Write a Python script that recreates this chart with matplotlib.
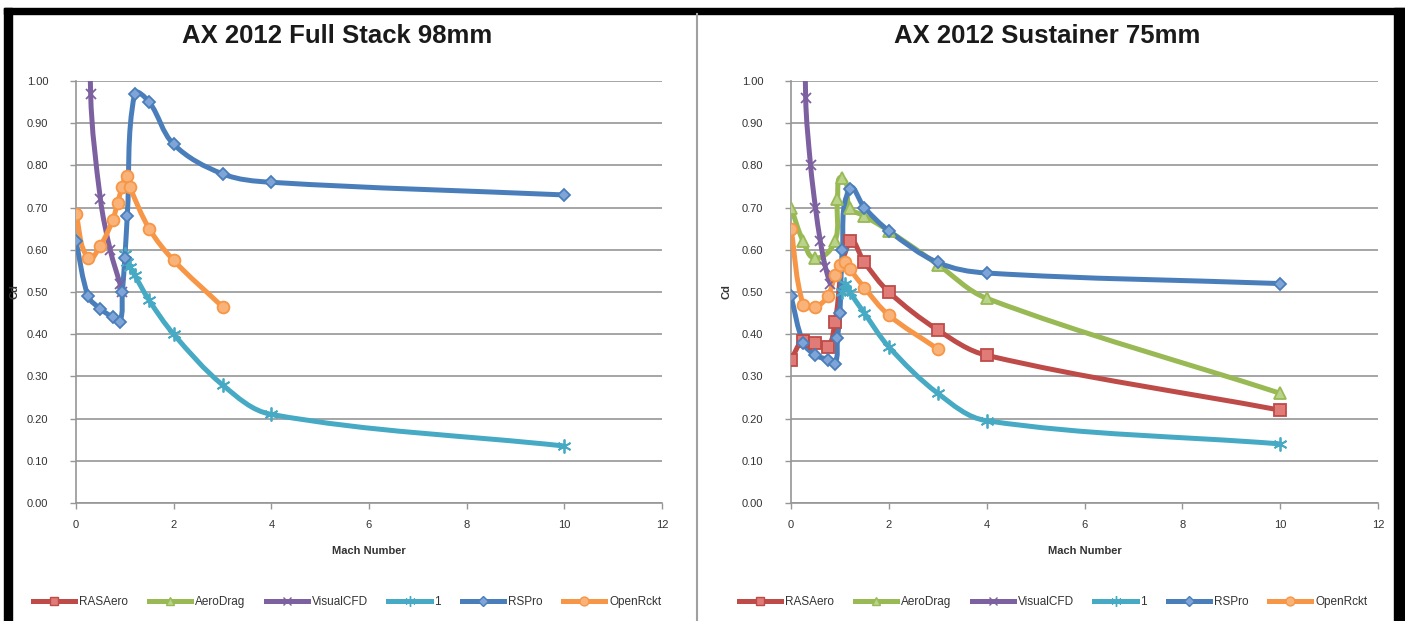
"""AX 2012 drag coefficient comparison: full stack vs sustainer."""
import matplotlib
matplotlib.use("Agg")
import matplotlib.pyplot as plt
from matplotlib.path import Path
from matplotlib.patches import PathPatch, Rectangle
from matplotlib.lines import Line2D
import numpy as np

plt.rcParams.update({"font.family": ["Liberation Sans", "DejaVu Sans"], "font.size": 8})

# ---- data: Full Stack 98mm ----
fs_rspro_x = [0, 0.25, 0.5, 0.75, 0.9, 0.95, 1.0, 1.05, 1.2, 1.5, 2, 3, 4, 10]
fs_rspro_y = [0.62, 0.49, 0.46, 0.44, 0.43, 0.50, 0.58, 0.68, 0.97, 0.95, 0.85, 0.78, 0.76, 0.73]
fs_one_x = [1.0, 1.05, 1.1, 1.2, 1.5, 2, 3, 4, 10]
fs_one_y = [0.59, 0.57, 0.56, 0.54, 0.48, 0.40, 0.28, 0.21, 0.135]
fs_vcfd_x = [0.1, 0.3, 0.5, 0.7, 0.9, 0.95]
fs_vcfd_y = [2.5, 0.97, 0.72, 0.60, 0.52, 0.50]
fs_ork_x = [0, 0.25, 0.5, 0.75, 0.85, 0.95, 1.05, 1.1, 1.5, 2, 3]
fs_ork_y = [0.685, 0.58, 0.61, 0.67, 0.71, 0.75, 0.775, 0.75, 0.65, 0.575, 0.465]

# ---- data: Sustainer 75mm ----
su_ras_x = [0, 0.25, 0.5, 0.75, 0.9, 1.2, 1.5, 2, 3, 4, 10]
su_ras_y = [0.34, 0.385, 0.38, 0.37, 0.43, 0.62, 0.57, 0.50, 0.41, 0.35, 0.22]
su_ad_x = [0, 0.25, 0.5, 0.9, 0.95, 1.05, 1.2, 1.5, 2, 3, 4, 10]
su_ad_y = [0.70, 0.62, 0.58, 0.62, 0.72, 0.77, 0.70, 0.68, 0.645, 0.565, 0.485, 0.26]
su_vcfd_x = [0.1, 0.3, 0.4, 0.5, 0.6, 0.7, 0.8]
su_vcfd_y = [2.5, 0.96, 0.80, 0.70, 0.62, 0.56, 0.52]
su_one_x = [1.05, 1.1, 1.2, 1.5, 2, 3, 4, 10]
su_one_y = [0.50, 0.52, 0.50, 0.45, 0.37, 0.26, 0.195, 0.14]
su_rspro_x = [0, 0.25, 0.5, 0.75, 0.9, 0.95, 1.0, 1.05, 1.2, 1.5, 2, 3, 4, 10]
su_rspro_y = [0.49, 0.38, 0.35, 0.34, 0.33, 0.39, 0.45, 0.60, 0.745, 0.70, 0.645, 0.57, 0.545, 0.52]
su_ork_x = [0, 0.25, 0.5, 0.75, 0.9, 1.0, 1.1, 1.2, 1.5, 2, 3]
su_ork_y = [0.65, 0.47, 0.465, 0.49, 0.54, 0.565, 0.57, 0.555, 0.51, 0.445, 0.365]

names = ["RASAero", "AeroDrag", "VisualCFD", "1", "RSPro", "OpenRckt"]
colors = {"RASAero": "#BE4B48", "AeroDrag": "#98B954", "VisualCFD": "#7D60A0",
          "1": "#46AAC5", "RSPro": "#4A7EBB", "OpenRckt": "#F79646"}
faces = {"RASAero": "#E07B78", "AeroDrag": "#B9D48A", "VisualCFD": "#7D60A0",
         "1": "#46AAC5", "RSPro": "#7FA5D8", "OpenRckt": "#F9B278"}
markers = {"RASAero": "s", "AeroDrag": "^", "VisualCFD": "x", "1": (6, 2, 0),
           "RSPro": "D", "OpenRckt": "o"}
msizes = {"RASAero": 8, "AeroDrag": 8, "VisualCFD": 7, "1": 10, "RSPro": 6.5, "OpenRckt": 8.5}

W, H = 1405, 621
SX = 586 / 12.0   # px per Mach unit
SY = 422 / 1.0    # px per Cd unit


def smooth_path(x, y, k=0.35):
    # Excel-like smoothed line: cubic Bezier with tangents from neighbours,
    # handle lengths tied to each segment so long gaps don't kink
    P = np.column_stack([np.asarray(x) * SX, np.asarray(y) * SY])
    n = len(P)
    tang = []
    for i in range(n):
        a = P[i - 1] if i > 0 else P[i]
        b = P[i + 1] if i < n - 1 else P[i]
        d = b - a
        tang.append(d / (np.hypot(*d) or 1.0))
    verts = [P[0]]
    codes = [Path.MOVETO]
    for i in range(n - 1):
        seg = np.hypot(*(P[i + 1] - P[i]))
        c1 = P[i] + tang[i] * seg * k
        c2 = P[i + 1] - tang[i + 1] * seg * k
        verts += [c1, c2, P[i + 1]]
        codes += [Path.CURVE4] * 3
    v = np.array(verts) / [SX, SY]
    return Path(v, codes)


def draw_series(ax, name, x, y):
    c = colors[name]
    patch = PathPatch(smooth_path(x, y), fill=False, edgecolor=c, lw=3.6,
                      capstyle="round", joinstyle="round", zorder=3)
    ax.add_patch(patch)
    ax.plot(x, y, ls="none", marker=markers[name], ms=msizes[name], mfc=faces[name],
            mec=c, mew=1.3, zorder=4)


def style_axes(ax):
    ax.set_xlim(0, 12)
    ax.set_ylim(0, 1)
    ax.set_xticks(np.arange(0, 13, 2))
    ax.set_yticks(np.arange(0, 1.01, 0.1))
    ax.set_yticklabels([f"{v:.2f}" for v in np.arange(0, 1.01, 0.1)])
    ax.yaxis.grid(True, color="#969696", lw=1.2)
    ax.set_axisbelow(True)
    for s in ["top", "right"]:
        ax.spines[s].set_visible(False)
    for s in ["left", "bottom"]:
        ax.spines[s].set_color("#969696")
        ax.spines[s].set_linewidth(1.2)
    ax.tick_params(axis="both", colors="#969696", labelcolor="#333333", labelsize=8,
                   length=4, width=1.0)
    ax.tick_params(axis="y", pad=16)
    ax.tick_params(axis="x", pad=8)


fig = plt.figure(figsize=(W / 100, H / 100), dpi=100)
fig.patch.set_facecolor("white")

# outer black frame and divider
fig.patches.append(Rectangle((4 / W, 0), 8 / W, 1 - 8 / H, transform=fig.transFigure, color="black"))
fig.patches.append(Rectangle((1394 / W, 0), 11 / W, 1 - 8 / H, transform=fig.transFigure, color="black"))
fig.patches.append(Rectangle((4 / W, 1 - 14 / H), 1401 / W, 6 / H, transform=fig.transFigure, color="black"))
fig.add_artist(Line2D([697 / W, 697 / W], [0, 1 - 14 / H], transform=fig.transFigure,
                      color="#a0a0a0", lw=1.5))

ax1 = fig.add_axes([76 / W, 1 - 503 / H, 586 / W, 422 / H])
ax2 = fig.add_axes([791 / W, 1 - 503 / H, 587 / W, 422 / H])

draw_series(ax1, "VisualCFD", fs_vcfd_x, fs_vcfd_y)
draw_series(ax1, "1", fs_one_x, fs_one_y)
draw_series(ax1, "RSPro", fs_rspro_x, fs_rspro_y)
draw_series(ax1, "OpenRckt", fs_ork_x, fs_ork_y)

draw_series(ax2, "RASAero", su_ras_x, su_ras_y)
draw_series(ax2, "AeroDrag", su_ad_x, su_ad_y)
draw_series(ax2, "VisualCFD", su_vcfd_x, su_vcfd_y)
draw_series(ax2, "1", su_one_x, su_one_y)
draw_series(ax2, "RSPro", su_rspro_x, su_rspro_y)
draw_series(ax2, "OpenRckt", su_ork_x, su_ork_y)

handles = [Line2D([], [], color=colors[n], lw=3.6, marker=markers[n], ms=msizes[n] * 0.75,
                  mfc=faces[n], mec=colors[n]) for n in names]

for ax, title, tx, cdx in [(ax1, "AX 2012 Full Stack 98mm", 337, 15),
                           (ax2, "AX 2012 Sustainer 75mm", 1047, 727)]:
    style_axes(ax)
    fig.text(tx / W, 1 - 36 / H, title, ha="center", va="center", fontsize=18.5,
             fontweight="bold", color="#1a1a1a")
    mid = ax.get_position().x0 + ax.get_position().width / 2
    fig.text(mid, 1 - 551 / H, "Mach Number", ha="center", va="center", fontsize=8,
             fontweight="bold", color="#333333")
    fig.text(cdx / W, 1 - 292 / H, "Cd", ha="center", va="center", rotation=90,
             fontsize=8, fontweight="bold", color="#333333")
    lx = (347 if ax is ax1 else 1053) / W
    fig.legend(handles, names, loc="center", bbox_to_anchor=(lx, 1 - 602 / H), ncol=6,
               frameon=False, fontsize=8.5, handlelength=3.6, columnspacing=1.75,
               handletextpad=0.3, labelcolor="#333333")

fig.savefig("out.png", dpi=100)
